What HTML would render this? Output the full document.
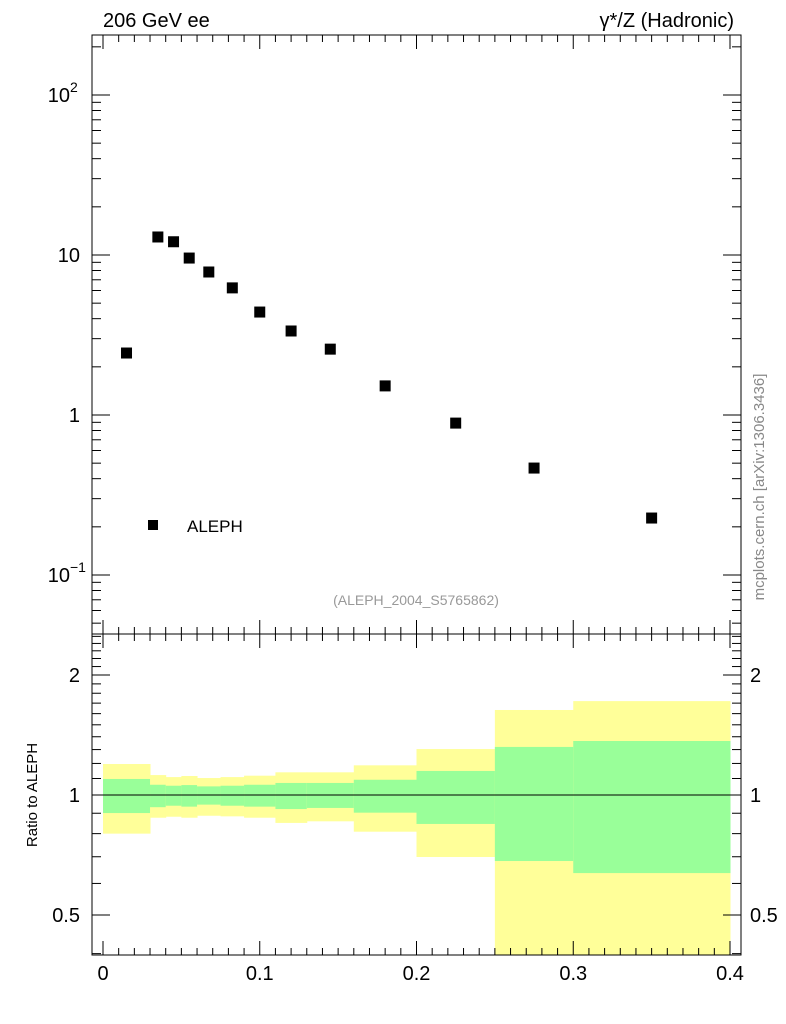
<!DOCTYPE html>
<html><head><meta charset="utf-8"><style>
body{margin:0;background:#fff}
svg{display:block;font-family:"Liberation Sans",sans-serif}
</style></head><body>
<svg id="c" width="786" height="1024"></svg>
<script>
const binEdges=[0,0.03,0.04,0.05,0.06,0.075,0.09,0.11,0.13,0.16,0.2,0.25,0.3,0.4];
const pointX=[0.015,0.035,0.045,0.055,0.0675,0.0825,0.1,0.12,0.145,0.18,0.225,0.275,0.35];
const pointY=[2.44,12.96,12.1,9.57,7.83,6.23,4.4,3.35,2.58,1.52,0.89,0.466,0.227];
const yellowHi=[1.196,1.122,1.109,1.116,1.103,1.109,1.118,1.140,1.140,1.187,1.304,1.634,1.72];
const yellowLo=[0.800,0.877,0.882,0.877,0.887,0.884,0.877,0.851,0.859,0.809,0.699,0.3,0.3];
const greenHi=[1.097,1.061,1.055,1.059,1.051,1.055,1.061,1.072,1.072,1.092,1.149,1.32,1.366];
const greenLo=[0.901,0.932,0.940,0.935,0.946,0.940,0.935,0.922,0.928,0.903,0.846,0.683,0.637];
const xTicks=[0,0.1,0.2,0.3,0.4];
const xTickLabels=["0","0.1","0.2","0.3","0.4"];
const ratioTicks=[0.5,1,2];
const ratioTickLabels=["0.5","1","2"];

const L=92,R=741,T=35,M=634,B=955;
const X=v=>103+v*1567.5;
const Y=v=>415-Math.log10(v)*160;
const RY=v=>795-Math.log2(v)*120;
const svg=document.getElementById('c');
const NS='http://www.w3.org/2000/svg';
function el(tag,attrs,txt){const e=document.createElementNS(NS,tag);for(const k in attrs)e.setAttribute(k,attrs[k]);if(txt!==undefined)e.textContent=txt;svg.appendChild(e);return e;}
const clip=el('clipPath',{id:'rc'});const cr=document.createElementNS(NS,'rect');clip.appendChild(cr);
cr.setAttribute('x',L);cr.setAttribute('y',M);cr.setAttribute('width',R-L);cr.setAttribute('height',B-M);

for(let i=0;i<yellowHi.length;i++){
 const x0=X(binEdges[i]),x1=X(binEdges[i+1]);
 let r=el('rect',{x:x0,y:RY(yellowHi[i]),width:x1-x0+0.5,height:RY(yellowLo[i])-RY(yellowHi[i]),fill:'#ffff99','clip-path':'url(#rc)'});
 
 r=el('rect',{x:x0,y:RY(greenHi[i]),width:x1-x0+0.5,height:RY(greenLo[i])-RY(greenHi[i]),fill:'#99ff99','clip-path':'url(#rc)'});
 
}
let ln=el('line',{x1:L,x2:R,y1:RY(1),y2:RY(1),stroke:'#000','stroke-width':1});


let f=el('rect',{x:L,y:T,width:R-L,height:M-T,fill:'none',stroke:'#000','stroke-width':1});

f=el('rect',{x:L,y:M,width:R-L,height:B-M,fill:'none',stroke:'#000','stroke-width':1});


for(let k=0;k<=40;k++){const v=k/100;
 const major=k%10==0;const len=major?14:7;const x=X(v);
 for(const [y,d] of [[T,1],[M,-1],[M,1],[B,-1]]) el('line',{x1:x,x2:x,y1:y,y2:y+d*len,stroke:'#000'});
}
xTicks.forEach((v,i)=>{const t=el('text',{x:X(v),y:980,'font-size':20,'text-anchor':'middle'},xTickLabels[i]);
 });

for(let e=-2;e<=2;e++)for(let m=1;m<10;m++){const v=m*Math.pow(10,e);const y=Y(v);if(y<T||y>M)continue;
 const len=m==1?18:9;el('line',{x1:L,x2:L+len,y1:y,y2:y,stroke:'#000'});el('line',{x1:R,x2:R-len,y1:y,y2:y,stroke:'#000'});}
[[100,'10','2'],[10,'10',''],[1,'1',''],[0.1,'10','−1']].forEach(([v,b,s])=>{
 const t=el('text',{x:s?70:80,y:Y(v)+7,'font-size':20,'text-anchor':'end'});t.textContent=b;
 
 if(s){const t2=el('text',{x:70,y:Y(v)-3,'font-size':14},s);}
});
for(let k=4;k<=25;k++){const v=k/10;const y=RY(v);if(y<M||y>B)continue;const major=(k==5||k==10||k==20);const len=major?18:9;
 el('line',{x1:L,x2:L+len,y1:y,y2:y,stroke:'#000'});el('line',{x1:R,x2:R-len,y1:y,y2:y,stroke:'#000'});}
ratioTicks.forEach((v,i)=>{let t=el('text',{x:80,y:RY(v)+7,'font-size':20,'text-anchor':'end'},ratioTickLabels[i]);
 
 t=el('text',{x:750,y:RY(v)+7,'font-size':20},ratioTickLabels[i]);
 });

pointX.forEach((v,i)=>{const p=el('rect',{x:X(v)-5.5,y:Y(pointY[i])-5.5,width:11,height:11,fill:'#000'});
 });

const texts=[[103,27,'206 GeV ee',20,'start','#000','title-left'],[734,27,'γ*/Z (Hadronic)',20,'end','#000','title-right'],
 [187,532,'ALEPH',17,'start','#000','legend-label'],[416,605,'(ALEPH_2004_S5765862)',14,'middle','#999','analysis-id']];
texts.forEach(a=>{const t=el('text',{x:a[0],y:a[1],'font-size':a[3],'text-anchor':a[4],fill:a[5]},a[2]);});
let lg=el('rect',{x:148,y:520,width:10,height:10,fill:'#000'});
let t=el('text',{x:37,y:795,'font-size':15,'text-anchor':'middle',transform:'rotate(-90 37 795)'},'Ratio to ALEPH');

t=el('text',{x:764,y:487,'font-size':15,'text-anchor':'middle',fill:'#888',transform:'rotate(-90 764 487)'},'mcplots.cern.ch [arXiv:1306.3436]');

</script>
</body></html>
